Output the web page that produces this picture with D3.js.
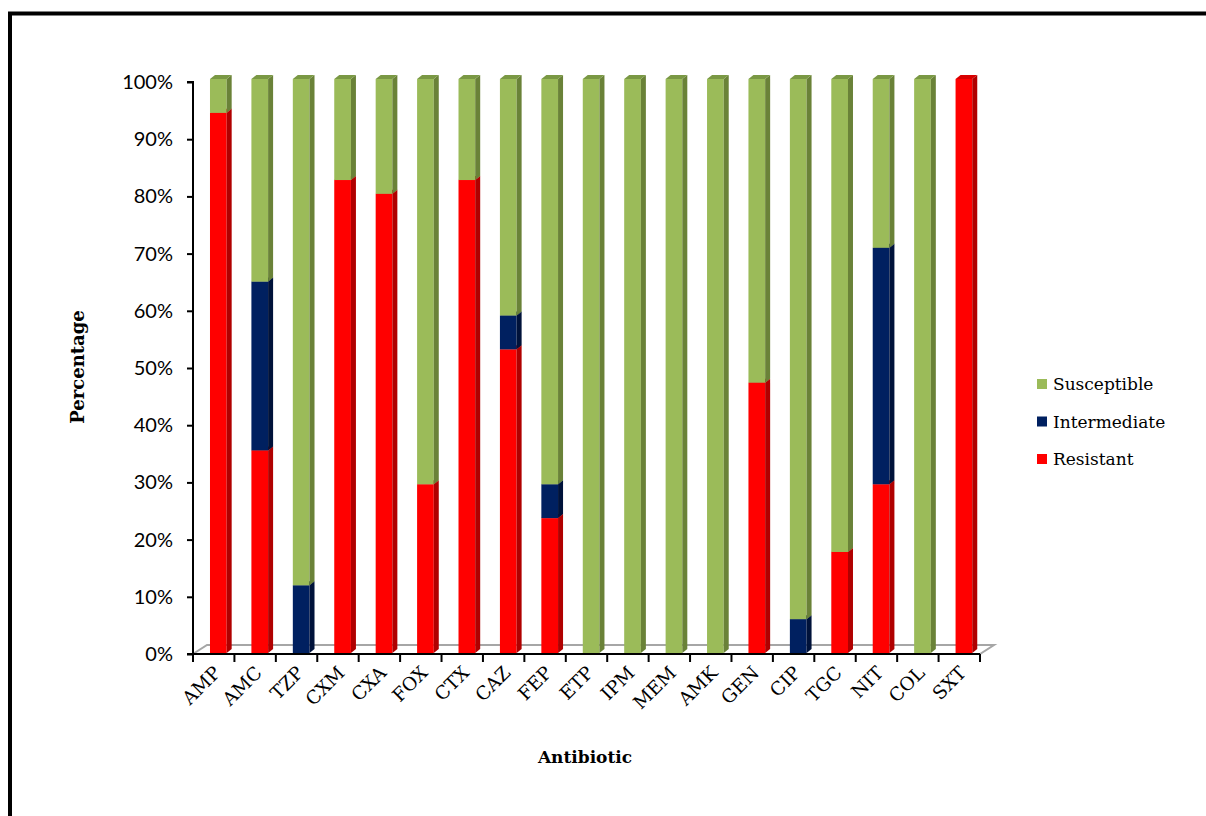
<!DOCTYPE html>
<html>
<head>
<meta charset="utf-8">
<script src="https://cdn.jsdelivr.net/npm/d3@7"></script>
<style>
  html, body { margin: 0; padding: 0; background: #fff; }
  svg { display: block; }
</style>
</head>
<body>
<svg id="chart" width="1206" height="816"></svg>
<script>
// Antibiotic susceptibility profile (% of isolates)
const categories = ["AMP","AMC","TZP","CXM","CXA","FOX","CTX","CAZ","FEP","ETP","IPM","MEM","AMK","GEN","CIP","TGC","NIT","COL","SXT"];
const resistant    = [94.1,35.3,0,82.4,80,29.4,82.4,52.9,23.5,0,0,0,0,47.1,0,17.6,29.4,0,100];
const intermediate = [0,29.4,11.8,0,0,0,0,5.9,5.9,0,0,0,0,0,5.9,0,41.2,0,0];
const susceptible  = [5.9,35.3,88.2,17.6,20,70.6,17.6,41.2,70.6,100,100,100,100,52.9,94.1,82.4,29.4,100,0];
const seriesNames  = ["Resistant","Intermediate","Susceptible"];
const yTicks       = [0,10,20,30,40,50,60,70,80,90,100];

const colors = {
  Resistant:    { front: "#FF0000", side: "#B00000", top: "#D80000" },
  Intermediate: { front: "#002060", side: "#00123A", top: "#001A4C" },
  Susceptible:  { front: "#9BBB59", side: "#6A8238", top: "#7A9844" }
};

const svg = d3.select("#chart");

// outer frame
svg.append("rect")
  .attr("x", 10).attr("y", 13.5)
  .attr("width", 1240).attr("height", 850)
  .attr("fill", "none").attr("stroke", "#000").attr("stroke-width", 4);

const plotLeft = 193, plotRight = 980, plotBottom = 654, plotTop = 82;
const x = d3.scaleBand().domain(categories).range([plotLeft, plotRight]).padding(0);
const y = d3.scaleLinear().domain([0, 100]).range([plotBottom, plotTop]);
// bars sit slightly back in the 3D box
const barY = d3.scaleLinear().domain([0, 100]).range([653, 79]);
const dx = 5, dy = 4;          // bar depth
const fdx = 14, fdy = 9;       // floor depth
const step = x.step();
const barOffset = step * 0.41, barW = step * 0.403;

// floor
const floorPts = [[plotLeft, plotBottom],[plotRight, plotBottom],[plotRight + fdx, plotBottom - fdy],[plotLeft + fdx, plotBottom - fdy]];
svg.append("polygon")
  .attr("points", floorPts.map(p => p.join(",")).join(" "))
  .attr("fill", "#fff").attr("stroke", "#A6A6A6").attr("stroke-width", 2);

// stacked data
const rows = categories.map((c, i) => ({
  cat: c, Resistant: resistant[i], Intermediate: intermediate[i], Susceptible: susceptible[i]
}));
const stacked = d3.stack().keys(seriesNames)(rows);

const segs = [];
rows.forEach((r, i) => {
  stacked.forEach(s => {
    const d = s[i];
    if (d[1] - d[0] > 0) segs.push({ cat: r.cat, key: s.key, y0: d[0], y1: d[1] });
  });
});

const bars = svg.append("g");
segs.forEach(s => {
  const x0 = x(s.cat) + barOffset, x1 = x0 + barW;
  const yb = barY(s.y0), yt = barY(s.y1);
  const c = colors[s.key];
  const g = bars.append("g");
  g.append("rect").attr("x", x0).attr("y", yt).attr("width", barW).attr("height", yb - yt).attr("fill", c.front);
  g.append("polygon")
    .attr("points", [[x1, yb],[x1 + dx, yb - dy],[x1 + dx, yt - dy],[x1, yt]].map(p => p.join(",")).join(" "))
    .attr("fill", c.side);
  g.append("polygon")
    .attr("points", [[x0, yt],[x1, yt],[x1 + dx, yt - dy],[x0 + dx, yt - dy]].map(p => p.join(",")).join(" "))
    .attr("fill", c.top);
});

// y axis
const yAxis = d3.axisLeft(y).tickValues(yTicks).tickSize(6).tickPadding(14).tickFormat(d => d + "%");
const yg = svg.append("g").attr("transform", `translate(${plotLeft},0)`).call(yAxis);
yg.select(".domain").attr("stroke", "#000").attr("stroke-width", 2).attr("d", `M-6,${plotTop}H0V${plotBottom}H-6`);
yg.selectAll(".tick line").attr("stroke", "#000").attr("stroke-width", 2);
yg.selectAll(".tick text").attr("font-family", "Lato, 'Open Sans', sans-serif").attr("font-size", 20).attr("fill", "#000");

// x axis line and ticks at category boundaries
const xg = svg.append("g");
xg.append("line").attr("x1", plotLeft).attr("x2", plotRight).attr("y1", plotBottom).attr("y2", plotBottom)
  .attr("stroke", "#000").attr("stroke-width", 2);
const bounds = categories.map(c => x(c)).concat([plotRight]);
xg.selectAll("line.tick").data(bounds).join("line").attr("class", "tick")
  .attr("x1", d => d).attr("x2", d => d).attr("y1", plotBottom).attr("y2", plotBottom + 8)
  .attr("stroke", "#000").attr("stroke-width", 2);

// category labels
xg.selectAll("text.cat").data(categories).join("text").attr("class", "cat")
  .attr("transform", d => `translate(${x(d) + step / 2 + 8},${plotBottom + 20}) rotate(-45)`)
  .attr("text-anchor", "end")
  .attr("font-family", "'DejaVu Serif', serif").attr("font-size", 18.5).attr("fill", "#000")
  .text(d => d);

// axis titles
svg.append("text")
  .attr("transform", "translate(84,367) rotate(-90)")
  .attr("text-anchor", "middle")
  .attr("font-family", "'DejaVu Serif', serif").attr("font-weight", "bold").attr("font-size", 18)
  .text("Percentage");
svg.append("text")
  .attr("x", 585).attr("y", 763)
  .attr("text-anchor", "middle")
  .attr("font-family", "'DejaVu Serif', serif").attr("font-weight", "bold").attr("font-size", 17)
  .text("Antibiotic");

// legend
const legendOrder = ["Susceptible","Intermediate","Resistant"];
const lg = svg.append("g").selectAll("g").data(legendOrder).join("g")
  .attr("transform", (d, i) => `translate(1037,${384 + i * 37.5})`);
lg.append("rect").attr("x", 0).attr("y", -5).attr("width", 10).attr("height", 10)
  .attr("fill", d => colors[d].front);
lg.append("text").attr("x", 16).attr("y", 6)
  .attr("font-family", "'DejaVu Serif', serif").attr("font-size", 17).attr("fill", "#000")
  .text(d => d);
</script>
</body>
</html>
